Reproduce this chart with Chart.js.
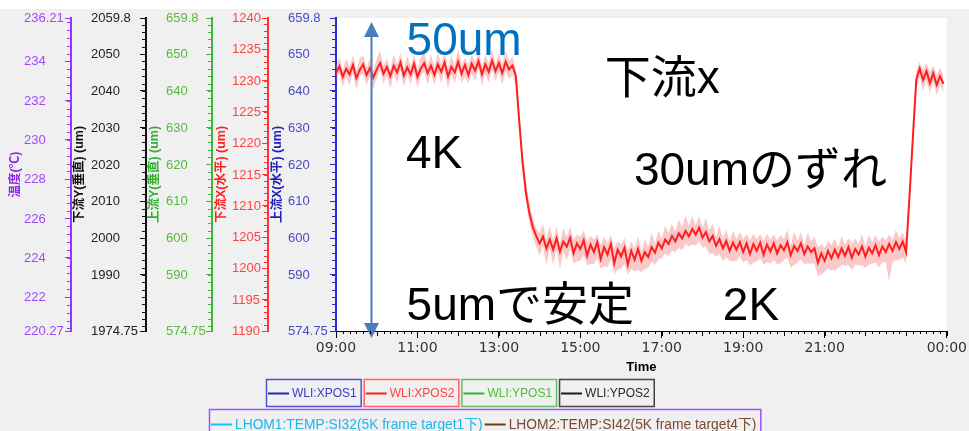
<!DOCTYPE html>
<html>
<head>
<meta charset="utf-8">
<script src="https://cdn.jsdelivr.net/npm/chart.js@4.4.1/dist/chart.umd.min.js"></script>
<style>
  html, body { margin: 0; padding: 0; background: #f0f0f0; }
  #wrap { width: 969px; height: 431px; }
</style>
</head>
<body>
<div id="wrap"><canvas id="trend" width="969" height="431"></canvas></div>
<script>
// WLI:XPOS2 (下流X, um), one sample every 5 min starting 09:00
const stepMin = 5;
const xpos2 = [
  1231.2, 1232.3, 1230.6, 1231.9, 1231.0, 1232.5, 1230.4, 1231.7, 1232.6, 1230.9,
  1232.0, 1230.5, 1231.8, 1232.8, 1231.1, 1232.2, 1230.7, 1232.4, 1231.3, 1232.9,
  1230.8, 1232.1, 1231.0, 1232.7, 1230.6, 1231.9, 1232.8, 1231.2, 1232.4, 1230.9,
  1232.6, 1231.4, 1232.9, 1230.7, 1232.2, 1231.3, 1233.0, 1231.1, 1232.5, 1230.9,
  1232.7, 1231.6, 1233.1, 1231.0, 1232.6, 1231.4, 1233.2, 1231.5, 1232.8, 1231.2,
  1233.0, 1231.8, 1232.4, 1230.8, 1223.5, 1216.8, 1212.0, 1208.8, 1206.6, 1205.2,
  1204.0, 1205.1, 1203.2, 1204.6, 1203.0, 1204.8, 1202.7, 1204.3, 1203.5, 1204.9,
  1202.4, 1204.0, 1203.1, 1204.5, 1202.0, 1203.8, 1202.6, 1204.2, 1201.5, 1203.4,
  1202.2, 1203.9, 1200.8, 1203.0, 1201.9, 1203.3, 1200.6, 1202.8, 1201.4, 1203.1,
  1201.2, 1202.6, 1201.8, 1203.4, 1202.5, 1204.1, 1203.2, 1204.6, 1203.9, 1205.2,
  1204.3, 1205.6, 1204.8, 1206.0, 1205.1, 1206.3, 1205.4, 1206.5, 1204.9, 1205.8,
  1204.3, 1205.2, 1203.6, 1204.7, 1203.2, 1204.4, 1202.8, 1204.1, 1203.0, 1204.2,
  1202.6, 1204.0, 1202.3, 1203.9, 1202.8, 1204.1, 1202.2, 1203.8, 1202.7, 1204.0,
  1202.4, 1203.7, 1202.9, 1204.2, 1202.1, 1203.6, 1202.8, 1204.0, 1202.3, 1203.5,
  1202.6, 1203.2, 1200.9, 1202.4, 1201.2, 1202.8, 1201.6, 1203.0, 1201.8, 1203.2,
  1202.0, 1203.4, 1201.7, 1203.1, 1202.2, 1203.5, 1201.9, 1203.3, 1202.4, 1203.7,
  1202.1, 1203.5, 1202.6, 1203.9, 1202.8, 1204.2, 1203.1, 1204.3, 1202.6, 1211.5,
  1221.0, 1230.2, 1231.9, 1230.1, 1231.5, 1229.6, 1231.2, 1229.3, 1230.7, 1229.5
];
// max / min of each 5 min window, as distance from the sample (um)
const xpos2SpreadUp = [
  1.2, 1.5, 1.0, 1.7, 1.3, 1.6, 1.1, 1.9, 1.4, 1.2,
  1.6, 1.1, 1.7, 2.0, 1.2, 1.4, 1.0, 1.8, 1.3, 1.6,
  1.1, 1.8, 1.3, 1.5, 1.1, 1.9, 1.6, 1.2, 1.7, 1.3,
  1.8, 1.2, 1.6, 1.4, 1.8, 1.2, 2.0, 1.4, 1.1, 1.7,
  1.5, 1.3, 1.9, 1.2, 1.6, 1.4, 1.8, 1.2, 1.6, 1.4,
  1.7, 1.3, 1.5, 1.2, 1.4, 1.6, 1.8, 1.5, 1.4, 1.2,
  1.6, 2.0, 1.4, 2.2, 1.5, 1.8, 1.3, 2.1, 1.5, 1.8,
  2.1, 1.4, 1.9, 1.6, 2.3, 1.4, 2.0, 1.2, 2.1, 1.7,
  1.8, 1.5, 2.4, 1.4, 1.9, 1.6, 2.2, 1.5, 1.8, 2.0,
  1.5, 2.1, 1.7, 2.3, 1.4, 1.9, 1.6, 2.2, 1.8, 2.0,
  1.6, 2.2, 1.8, 2.4, 1.7, 2.1, 1.5, 1.9, 1.6, 2.2,
  1.8, 2.0, 1.4, 2.1, 1.6, 1.8, 1.5, 1.9, 1.7, 1.6,
  2.0, 1.5, 2.2, 1.6, 1.8, 1.4, 2.2, 1.7, 1.9, 1.4,
  2.1, 1.6, 1.8, 2.0, 1.5, 2.3, 1.6, 1.8, 1.4, 2.2,
  1.7, 1.9, 2.4, 1.5, 2.0, 1.6, 2.1, 1.8, 1.6, 1.9,
  1.8, 1.4, 2.2, 1.7, 1.6, 2.0, 1.5, 2.1, 1.8, 1.6,
  2.2, 1.6, 1.9, 1.5, 1.8, 2.0, 1.7, 1.4, 1.8, 1.4,
  1.2, 1.5, 1.1, 1.6, 1.3, 1.8, 1.2, 1.6, 1.4, 1.2
];
const xpos2SpreadDown = [
  1.3, 1.1, 1.6, 1.2, 1.8, 1.2, 1.9, 1.0, 1.5, 1.7,
  1.2, 1.9, 1.3, 1.1, 1.6, 1.4, 2.0, 1.2, 1.7, 1.2,
  1.8, 1.2, 1.6, 1.3, 1.9, 1.1, 1.4, 1.9, 1.2, 1.6,
  1.3, 1.8, 1.2, 2.0, 1.2, 1.7, 1.1, 1.5, 1.9, 1.3,
  1.6, 1.7, 1.2, 1.9, 1.4, 1.8, 1.3, 1.6, 1.4, 1.9,
  1.4, 1.6, 1.5, 1.8, 1.6, 1.5, 1.4, 1.6, 1.5, 1.8,
  1.9, 1.6, 2.6, 1.4, 2.4, 1.7, 2.8, 1.5, 2.2, 1.8,
  1.6, 2.9, 1.8, 2.3, 1.5, 3.1, 1.9, 2.5, 1.6, 3.0,
  2.0, 2.4, 1.7, 3.2, 1.9, 2.6, 1.6, 2.9, 1.9, 3.3,
  1.8, 2.7, 1.7, 2.3, 2.0, 2.6, 1.6, 2.2, 1.9, 2.4,
  1.7, 2.3, 1.9, 2.1, 1.6, 2.5, 1.8, 2.2, 1.6, 2.4,
  1.9, 2.8, 1.7, 2.4, 2.0, 2.6, 1.6, 2.9, 1.8, 2.3,
  1.6, 2.7, 1.8, 3.0, 1.7, 2.5, 1.6, 2.8, 1.9, 2.6,
  1.7, 2.9, 1.6, 2.4, 2.0, 3.1, 1.8, 2.5, 1.6, 2.7,
  1.8, 2.4, 2.1, 3.4, 1.7, 2.8, 1.9, 3.2, 1.8, 2.6,
  1.6, 2.9, 2.0, 2.5, 1.7, 3.0, 1.8, 2.7, 1.6, 2.8,
  1.9, 2.5, 1.6, 6.0, 1.8, 2.9, 1.7, 2.6, 1.9, 1.5,
  1.3, 1.6, 1.2, 1.8, 1.4, 1.6, 1.2, 1.7, 1.3, 1.5
];

// x axis: minutes after 09:00 that carry a label
const timeTicks = [0, 120, 240, 360, 480, 600, 720, 900];

// labelled ticks of the five left axes (first and last are the axis range)
const tempTicks = [220.27, 222, 224, 226, 228, 230, 232, 234, 236.21];
const ypos2Ticks = [1974.75, 1990, 2000, 2010, 2020, 2030, 2040, 2050, 2059.8];
const ypos1Ticks = [574.75, 590, 600, 610, 620, 630, 640, 650, 659.8];
const xpos2Ticks = [1190, 1195, 1200, 1205, 1210, 1215, 1220, 1225, 1230, 1235, 1240];
const xpos1Ticks = [574.75, 590, 600, 610, 620, 630, 640, 650, 659.8];

const seriesNames = ['WLI:XPOS1', 'WLI:XPOS2', 'WLI:YPOS1', 'WLI:YPOS2',
  'LHOM1:TEMP:SI32(5K frame target1下)', 'LHOM2:TEMP:SI42(5K frame target4下)'];
const seriesColors = ['#2424c4', '#ff1e1e', '#33b533', '#1a1a1a', '#00c8ff', '#7b3b14'];
const seriesText = ['#3a3ac8', '#ff4040', '#4cbf30', '#2a2a2a', '#1eb6ee', '#7a4a32'];
const seriesAxes = ['yXpos1', 'yXpos2', 'yYpos1', 'yYpos2', 'yTemp', 'yTemp'];

// text notes written on the plot, placed in (minutes, 下流X um)
const notes = [
  { text: '50um', t: 104, v: 1234.1, color: '#0070c0' },
  { text: '下流x', t: 396, v: 1228.0, color: '#000' },
  { text: '4K', t: 103, v: 1216.0, color: '#000' },
  { text: '30umのずれ', t: 439, v: 1213.3, color: '#000' },
  { text: '5umで安定', t: 104, v: 1191.8, color: '#000' },
  { text: '2K', t: 570, v: 1191.8, color: '#000' }
];
const arrowAt = 51;

const FONT = "'Liberation Sans', 'Noto Sans CJK JP', sans-serif";
Chart.defaults.font.family = FONT;

const pts = (vals) => vals.map((v, i) => ({ x: i * stepMin, y: v }));
const hi = xpos2.map((v, i) => v + xpos2SpreadUp[i]);
const lo = xpos2.map((v, i) => v - xpos2SpreadDown[i]);

function clock(min) {
  const m = (9 * 60 + min) % 1440;
  return String(Math.floor(m / 60)).padStart(2, '0') + ':' + String(m % 60).padStart(2, '0');
}

// outermost first; labels are left aligned at box left + inset
const leftAxes = [
  { id: 'yTemp', ticks: tempTicks, minor: 0.4, width: 71, weight: 5, inset: 24, line: '#9933ff', label: '#a347ff', title: '温度(℃)', titleColor: '#8a2be2', titlePad: 8 },
  { id: 'yYpos2', ticks: ypos2Ticks, minor: 2, width: 75, weight: 4, inset: 20, line: '#111111', label: '#222222', title: '下流Y(垂直) (um)', titleColor: '#111111', titlePad: 1 },
  { id: 'yYpos1', ticks: ypos1Ticks, minor: 2, width: 66, weight: 3, inset: 20, line: '#3cb83c', label: '#56bb3a', title: '上流Y(垂直) (um)', titleColor: '#33b033', titlePad: 1 },
  { id: 'yXpos2', ticks: xpos2Ticks, minor: 1, width: 56, weight: 2, inset: 20, line: '#ff3333', label: '#ff4444', title: '下流X(水平) (um)', titleColor: '#ff2020', titlePad: 2 },
  { id: 'yXpos1', ticks: xpos1Ticks, minor: 2, width: 68, weight: 1, inset: 20, line: '#2a2ad0', label: '#4a4ac8', title: '上流X(水平) (um)', titleColor: '#2020c0', titlePad: 2 }
];

function leftAxis(def) {
  return {
    type: 'linear',
    position: 'left',
    weight: def.weight,
    min: def.ticks[0],
    max: def.ticks[def.ticks.length - 1],
    afterBuildTicks: s => { s.ticks = def.ticks.map(v => ({ value: v })); },
    afterFit: s => { s.width = def.width; },
    border: { color: def.line, width: 2 },
    grid: { drawOnChartArea: false, tickLength: 6, tickColor: def.line, tickWidth: 1 },
    ticks: { display: false, autoSkip: false },
    title: { display: true, text: def.title, color: def.titleColor, font: { size: 12.5, weight: 'bold' }, padding: { top: def.titlePad, bottom: 0 } }
  };
}

const scales = {
  x: {
    type: 'linear',
    min: 0,
    max: 900,
    afterBuildTicks: s => { s.ticks = timeTicks.map(v => ({ value: v })); },
    afterFit: s => { s.height = 44; },
    border: { color: '#000', width: 1 },
    grid: { drawOnChartArea: false, tickLength: 7, tickColor: '#000' },
    ticks: { color: '#333', padding: 2, maxRotation: 0, autoSkip: false, font: { size: 14, family: 'DejaVu Sans' }, callback: v => clock(v) },
    title: { display: true, text: 'Time', color: '#000', font: { size: 13, weight: 'bold' }, padding: 0 }
  }
};
leftAxes.forEach(a => { scales[a.id] = leftAxis(a); });

const datasets = seriesNames.map((name, i) => ({
  label: name,
  data: i === 1 ? pts(xpos2) : [],
  yAxisID: seriesAxes[i],
  borderColor: seriesColors[i],
  borderWidth: i === 1 ? 2 : 1.5,
  pointRadius: 0,
  fill: false,
  order: i === 1 ? 0 : 1
}));
// max / min band behind the XPOS2 trace
datasets.push({ label: 'xpos2-max', data: pts(hi), yAxisID: 'yXpos2', borderWidth: 0, pointRadius: 0, fill: '+1', backgroundColor: 'rgba(242,105,105,0.36)', order: 2 });
datasets.push({ label: 'xpos2-min', data: pts(lo), yAxisID: 'yXpos2', borderWidth: 0, pointRadius: 0, fill: false, order: 2 });

const backdrop = {
  id: 'backdrop',
  beforeDraw(chart) {
    const { ctx, width, height, chartArea: a } = chart;
    ctx.save();
    ctx.fillStyle = '#f0f0f0';
    ctx.fillRect(0, 0, width, height);
    ctx.fillStyle = '#ffffff';
    ctx.fillRect(0, 0, width, 9);
    ctx.fillRect(a.left, a.top, a.right - a.left, a.bottom - a.top);
    ctx.restore();
  }
};

// left aligned tick labels plus short unlabelled ticks on every axis
const axisExtras = {
  id: 'axisExtras',
  afterDraw(chart) {
    const ctx = chart.ctx;
    ctx.save();
    ctx.font = '13px ' + FONT;
    ctx.textAlign = 'left';
    ctx.textBaseline = 'middle';
    ctx.lineWidth = 1;
    leftAxes.forEach(def => {
      const s = chart.scales[def.id];
      ctx.fillStyle = def.label;
      def.ticks.forEach(v => ctx.fillText(String(v), s.left + def.inset, s.getPixelForValue(v) + 0.5));
      ctx.strokeStyle = def.line;
      const n0 = Math.ceil(s.min / def.minor - 1e-6);
      const n1 = Math.floor(s.max / def.minor + 1e-6);
      for (let n = n0; n <= n1; n++) {
        const y = Math.round(s.getPixelForValue(n * def.minor)) + 0.5;
        ctx.beginPath();
        ctx.moveTo(s.right - 4, y);
        ctx.lineTo(s.right, y);
        ctx.stroke();
      }
    });
    const xs = chart.scales.x;
    ctx.strokeStyle = '#000';
    for (let m = 0; m <= 900; m += 10) {
      const x = Math.round(xs.getPixelForValue(m)) + 0.5;
      const len = m % 60 === 0 ? 5 : 3;
      ctx.beginPath();
      ctx.moveTo(x, xs.top);
      ctx.lineTo(x, xs.top + len);
      ctx.stroke();
    }
    ctx.restore();
  }
};

const notesLayer = {
  id: 'notesLayer',
  afterDatasetsDraw(chart) {
    const { ctx, chartArea: a } = chart;
    const xs = chart.scales.x, ys = chart.scales.yXpos2;
    ctx.save();
    // two-headed arrow marking the 50um span
    const x = Math.round(xs.getPixelForValue(arrowAt)) + 0.5;
    const top = a.top + 4, bottom = a.bottom + 7;
    ctx.strokeStyle = '#4a7ebb';
    ctx.fillStyle = '#4a7ebb';
    ctx.lineWidth = 2;
    ctx.beginPath();
    ctx.moveTo(x, top + 12);
    ctx.lineTo(x, bottom - 12);
    ctx.stroke();
    ctx.beginPath();
    ctx.moveTo(x, top); ctx.lineTo(x - 7.5, top + 15); ctx.lineTo(x + 7.5, top + 15); ctx.closePath();
    ctx.fill();
    ctx.beginPath();
    ctx.moveTo(x, bottom); ctx.lineTo(x - 7.5, bottom - 15); ctx.lineTo(x + 7.5, bottom - 15); ctx.closePath();
    ctx.fill();

    ctx.font = '46px ' + FONT;
    ctx.textBaseline = 'alphabetic';
    ctx.textAlign = 'left';
    notes.forEach(n => {
      ctx.fillStyle = n.color;
      ctx.fillText(n.text, xs.getPixelForValue(n.t), ys.getPixelForValue(n.v));
    });
    ctx.restore();
  }
};

// boxed legend rows under the time axis
const legendRows = [
  { center: 460, top: 379, height: 27, font: 12, boxes: [
    { items: [0], border: '#5050d0' }, { items: [1], border: '#ff6060' },
    { items: [2], border: '#60c060' }, { items: [3], border: '#444444' }] },
  { center: 485, top: 409, height: 30, font: 13.8, boxes: [
    { items: [4, 5], border: '#a050ff' }] }
];

const boxedLegend = {
  id: 'boxedLegend',
  afterDraw(chart) {
    const ctx = chart.ctx;
    ctx.save();
    ctx.textBaseline = 'middle';
    ctx.textAlign = 'left';
    const sample = 21, gap = 3, pad = 4, boxGap = 3;
    legendRows.forEach(row => {
      ctx.font = row.font + 'px ' + FONT;
      const widths = row.boxes.map(b => b.items.reduce((w, i) =>
        w + 2 + sample + gap + ctx.measureText(seriesNames[i]).width, 0) + pad);
      const total = widths.reduce((s, w) => s + w, 0) + boxGap * (widths.length - 1);
      let x = Math.round(row.center - total / 2);
      const cy = row.top + row.height / 2;
      row.boxes.forEach((b, k) => {
        ctx.strokeStyle = b.border;
        ctx.lineWidth = 1.5;
        ctx.strokeRect(x + 0.5, row.top + 0.5, widths[k], row.height);
        let ix = x + 2;
        b.items.forEach(i => {
          ctx.strokeStyle = seriesColors[i];
          ctx.lineWidth = 2;
          ctx.beginPath();
          ctx.moveTo(ix, Math.round(cy) + 0.5);
          ctx.lineTo(ix + sample, Math.round(cy) + 0.5);
          ctx.stroke();
          ix += sample + gap;
          ctx.fillStyle = seriesText[i];
          ctx.fillText(seriesNames[i], ix, cy + 1);
          ix += ctx.measureText(seriesNames[i]).width + 2;
        });
        x += widths[k] + boxGap;
      });
    });
    ctx.restore();
  }
};

new Chart(document.getElementById('trend'), {
  type: 'line',
  data: { datasets },
  options: {
    responsive: false,
    animation: false,
    layout: { padding: { top: 18, right: 17, bottom: 56, left: 0 } },
    elements: { line: { tension: 0 }, point: { radius: 0 } },
    plugins: { legend: { display: false }, tooltip: { enabled: false } },
    scales
  },
  plugins: [backdrop, axisExtras, notesLayer, boxedLegend]
});
</script>
</body>
</html>
